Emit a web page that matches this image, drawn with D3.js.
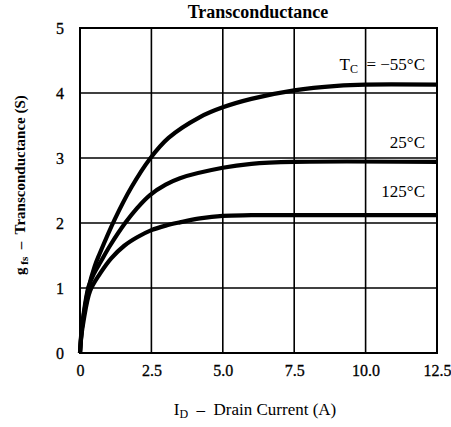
<!DOCTYPE html>
<html>
<head>
<meta charset="utf-8">
<script src="https://cdn.jsdelivr.net/npm/d3@7"></script>
<style>
  body { margin: 0; background: #fff; }
  text { font-family: "Liberation Serif", "Times New Roman", serif; fill: #000; }
</style>
</head>
<body>
<div class="visHolder"></div>
<script>
// Curve data: [drain current (A), transconductance (S)]
const curveMinus55 = [[0, 0], [0.05, 0.32], [0.12, 0.55], [0.3, 1.0], [0.51, 1.33], [0.69, 1.53], [1.22, 2.06],
    [1.8, 2.55], [2.45, 2.99], [3.1, 3.31], [4.2, 3.63], [5, 3.78], [6, 3.91], [7.5, 4.04], [9, 4.11],
    [10, 4.13], [12.5, 4.13]];
const curve25 = [[0, 0], [0.05, 0.3], [0.12, 0.58], [0.3, 1.02], [0.5, 1.23], [0.72, 1.4], [1.05, 1.65],
    [1.6, 2.01], [2.0, 2.23], [2.45, 2.43], [3.0, 2.59], [3.5, 2.69], [5, 2.85], [6, 2.91], [7.5, 2.94],
    [12.5, 2.94]];
const curve125 = [[0, 0], [0.05, 0.27], [0.12, 0.48], [0.35, 0.95], [0.7, 1.22], [1.1, 1.46], [1.55, 1.65],
    [2.0, 1.78], [2.5, 1.89], [3.0, 1.96], [3.5, 2.01], [4.2, 2.07], [5, 2.11], [6, 2.12], [12.5, 2.12]];
const xTicks = [0, 2.5, 5.0, 7.5, 10.0, 12.5];
const yTicks = [0, 1, 2, 3, 4, 5];
const curveLabels = ["−55°C", "25°C", "125°C"];

const width = 451;
const height = 427;
const margin = { top: 28, right: 14, bottom: 74, left: 80 };

// Scales
const xScale = d3.scaleLinear()
    .domain([0, 12.5])
    .range([margin.left, width - margin.right]);

const yScale = d3.scaleLinear()
    .domain([0, 5])
    .range([height - margin.bottom, margin.top]);

const svg = d3.select(".visHolder")
    .append("svg")
    .attr("width", width)
    .attr("height", height);

// Grid lines
svg.append("g")
    .selectAll("line")
    .data(xTicks)
    .enter()
    .append("line")
    .attr("x1", d => xScale(d))
    .attr("x2", d => xScale(d))
    .attr("y1", yScale(0))
    .attr("y2", yScale(5))
    .attr("stroke", "#000")
    .attr("stroke-width", 1.6);

svg.append("g")
    .selectAll("line")
    .data(yTicks)
    .enter()
    .append("line")
    .attr("x1", xScale(0))
    .attr("x2", xScale(12.5))
    .attr("y1", d => yScale(d))
    .attr("y2", d => yScale(d))
    .attr("stroke", "#000")
    .attr("stroke-width", 1.6);

// Frame
svg.append("rect")
    .attr("x", xScale(0))
    .attr("y", yScale(5))
    .attr("width", xScale(12.5) - xScale(0))
    .attr("height", yScale(0) - yScale(5))
    .attr("fill", "none")
    .attr("stroke", "#000")
    .attr("stroke-width", 2);

// Axes tick labels (no tick marks, grid does that job)
const xAxis = svg.append("g")
    .attr("transform", `translate(0, ${yScale(0)})`)
    .call(d3.axisBottom(xScale).tickValues(xTicks).tickSize(0).tickPadding(12)
        .tickFormat(d => d === 0 ? "0" : d3.format(".1f")(d)));
xAxis.select(".domain").remove();
xAxis.selectAll("text").style("font-size", "16px").style("stroke", "#000").style("stroke-width", 0.3);

const yAxis = svg.append("g")
    .attr("transform", `translate(${xScale(0)}, 0)`)
    .call(d3.axisLeft(yScale).tickValues(yTicks).tickSize(0).tickPadding(16).tickFormat(d3.format("d")));
yAxis.select(".domain").remove();
yAxis.selectAll("text").style("font-size", "16px").style("stroke", "#000").style("stroke-width", 0.3);

// Curves
const line = d3.line()
    .x(d => xScale(d[0]))
    .y(d => yScale(d[1]))
    .curve(d3.curveCatmullRom.alpha(0.5));

[curveMinus55, curve25, curve125].forEach(c => {
    svg.append("path")
        .datum(c)
        .attr("d", line)
        .attr("fill", "none")
        .attr("stroke", "#000")
        .attr("stroke-width", 4.2);
});

// Curve labels
const tc = svg.append("text")
    .attr("x", xScale(12.5) - 12)
    .attr("y", 70)
    .attr("text-anchor", "end")
    .attr("xml:space", "preserve")
    .style("font-size", "17px");
tc.append("tspan").text("T");
tc.append("tspan").attr("dy", 3).style("font-size", "12px").text("C");
tc.append("tspan").attr("dy", -3).text("  = " + curveLabels[0]);

svg.append("text")
    .attr("x", xScale(12.5) - 12)
    .attr("y", 148)
    .attr("text-anchor", "end")
    .style("font-size", "17px")
    .text(curveLabels[1]);

svg.append("text")
    .attr("x", xScale(12.5) - 12)
    .attr("y", 197)
    .attr("text-anchor", "end")
    .style("font-size", "17px")
    .text(curveLabels[2]);

// Title
svg.append("text")
    .attr("x", 258)
    .attr("y", 18)
    .attr("text-anchor", "middle")
    .style("font-size", "18px")
    .style("font-weight", "bold")
    .text("Transconductance");

// x-axis label
const xl = svg.append("text")
    .attr("x", 255)
    .attr("y", 415)
    .attr("text-anchor", "middle")
    .attr("xml:space", "preserve")
    .style("font-size", "17px");
xl.append("tspan").text("I");
xl.append("tspan").attr("dy", 3).style("font-size", "12px").text("D");
xl.append("tspan").attr("dy", -3).text("  –  Drain Current (A)");

// y-axis label
const yl = svg.append("text")
    .attr("transform", `translate(25, 185) rotate(-90)`)
    .attr("text-anchor", "middle")
    .attr("xml:space", "preserve")
    .style("font-size", "15px")
    .style("font-weight", "bold");
yl.append("tspan").text("g");
yl.append("tspan").attr("dy", 3).style("font-size", "11px").text(" fs");
yl.append("tspan").attr("dy", -3).text("  –  Transconductance (S)");
</script>
</body>
</html>
